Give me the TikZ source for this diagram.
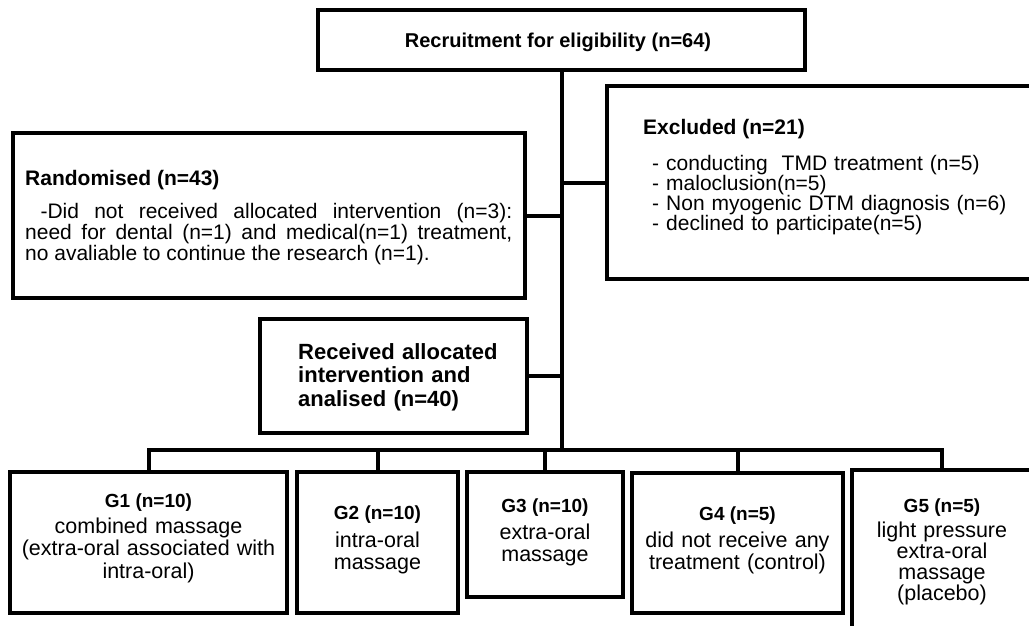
\documentclass[tikz,border=0pt]{standalone}
\usepackage{fontspec}
\setmainfont{Liberation Sans}
\tikzset{
  box/.style={draw, line width=4pt, rectangle, inner sep=0pt, outer sep=0pt},
  wire/.style={line width=4pt},
  bt/.style={font=\bfseries\fontsize{20}{24}\selectfont, inner sep=0pt},
  gt/.style={font=\bfseries\fontsize{19}{22}\selectfont, inner sep=0pt, anchor=base},
  gb/.style={inner sep=0pt, anchor=base, align=center},
}
\newcommand{\gbfont}[1]{\fontsize{21.5}{#1}\selectfont}
\newcommand{\jline}[1]{\makebox[487pt][s]{#1}}
\begin{document}
\begin{tikzpicture}[x=1pt,y=-1pt]
\useasboundingbox (0,0) rectangle (1029,625);
\clip (0,0) rectangle (1029,625);
% boxes
\node[box, minimum width=487, minimum height=60] (top) at (561.5,40) {};
\node[box, minimum width=512, minimum height=165] (rand) at (269,215.5) {};
\node[box, minimum width=438, minimum height=193] (excl) at (826,182.5) {};
\node[box, minimum width=267, minimum height=114] (recv) at (393.5,376) {};
\node[box, minimum width=277, minimum height=141] (g1) at (148.5,542.5) {};
\node[box, minimum width=161, minimum height=141] (g2) at (377.5,542.5) {};
\node[box, minimum width=156, minimum height=125] (g3) at (545,534.5) {};
\node[box, minimum width=211, minimum height=140] (g4) at (737.5,543) {};
\node[box, minimum width=180, minimum height=170] (g5) at (942,555) {};
\coordinate (bus) at (561.5,450);
% texts
\node[bt, anchor=base] (ttop) at (558,47) {Recruitment for eligibility (n=64)};
\node[font=\bfseries\fontsize{21}{24}\selectfont, inner sep=0pt, anchor=base west] (trand) at (25,185) {Randomised (n=43)};
\node[font=\fontsize{21}{19.5}\selectfont, inner sep=0pt, anchor=base west, align=left] (brand) at (25,260)
  {\jline{\ -Did not received allocated intervention (n=3):}\\
   \jline{need for dental (n=1) and medical(n=1) treatment,}\\
   no avaliable to continue the research (n=1).};
\node[font=\bfseries\fontsize{21}{24}\selectfont, inner sep=0pt, anchor=base west] (texcl) at (643,134) {Excluded (n=21)};
\node[font=\fontsize{21}{20}\selectfont, inner sep=0pt, anchor=base west, text width=370, align=left] (bexcl) at (652,170.5)
  {- conducting\ \ TMD treatment (n=5)\\
   - maloclusion(n=5)\\
   - Non myogenic DTM diagnosis (n=6)\\
   - declined to participate(n=5)};
\node[font=\bfseries\fontsize{22}{23.5}\selectfont, inner sep=0pt, anchor=base west, text width=220, align=left] (trecv) at (298,359)
  {Received allocated\\ intervention and\\ analised (n=40)};
\node[gt] (tg1) at (148.5,507) {G1 (n=10)};
\node[gb, text width=270, font=\gbfont{22.5}] (bg1) at (148.5,533) {combined massage\\ (extra-oral associated with\\ intra-oral)};
\node[gt] (tg2) at (377.5,519) {G2 (n=10)};
\node[gb, text width=150, font=\gbfont{22.5}] (bg2) at (377.5,547) {intra-oral\\ massage};
\node[gt] (tg3) at (545,512) {G3 (n=10)};
\node[gb, text width=150, font=\gbfont{22}] (bg3) at (545,539) {extra-oral\\ massage};
\node[gt] (tg4) at (737.5,520) {G4 (n=5)};
\node[gb, text width=205, font=\gbfont{22}] (bg4) at (737.5,547) {did not receive any\\ treatment (control)};
\node[gt] (tg5) at (942,512) {G5 (n=5)};
\node[gb, text width=175, font=\gbfont{21}] (bg5) at (942,537) {light pressure\\ extra-oral\\ massage\\ (placebo)};
% connectors
\draw[wire] (top.south) -- (bus);
\draw[wire] (rand.east) -- (rand.east -| top.south);
\draw[wire] (excl.west) -- (excl.west -| top.south);
\draw[wire] (recv.east) -- (recv.east -| top.south);
\draw[wire, line join=miter] (g1.north) -- (g1.north |- bus) -- (g5.north |- bus) -- (g5.north);
\draw[wire] (g2.north) -- (g2.north |- bus);
\draw[wire] (g3.north) -- (g3.north |- bus);
\draw[wire] (g4.north) -- (g4.north |- bus);
\end{tikzpicture}
\end{document}
